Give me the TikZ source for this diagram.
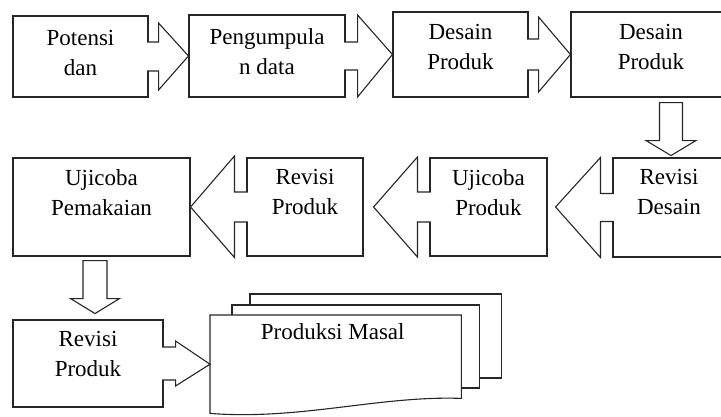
\documentclass[tikz,border=0pt]{standalone}
\usepackage{fontspec}
\setmainfont{Liberation Serif}
\usetikzlibrary{calc}
\tikzset{
  kotak/.style={draw=black!85, line width=1.1pt, fill=white, inner sep=0pt},
  teks/.style={align=center, anchor=north, inner sep=0pt,
    font=\fontsize{23}{30}\selectfont},
  panah/.style={draw=black!85, line width=1.1pt, fill=white, line join=miter},
}

\begin{document}
\begin{tikzpicture}[x=1pt,y=-1pt]
\clip (0,0) rectangle (721,416);
% baris pertama
\node[kotak, minimum width=135, minimum height=81] (potensi) at (80.5,56.5) {};
\node[kotak, minimum width=156, minimum height=82] (pengumpulan) at (267,56) {};
\node[kotak, minimum width=135, minimum height=85] (desain) at (460.5,54.5) {};
\node[kotak, minimum width=160, minimum height=85] (desainB) at (651,54.5) {};
% baris kedua
\node[kotak, minimum width=112, minimum height=99] (revisidesain) at (669,207.5) {};
\node[kotak, minimum width=117, minimum height=98] (ujicobaproduk) at (488.5,207) {};
\node[kotak, minimum width=116, minimum height=98] (revisiproduk) at (305,207) {};
\node[kotak, minimum width=177, minimum height=98] (ujicobapemakaian) at (101.5,207) {};
% baris ketiga
\node[kotak, minimum width=150, minimum height=87] (revisiprodukB) at (88,363.5) {};
\node[anchor=north west, minimum width=251, minimum height=98, inner sep=0pt] (produksi) at (210,315) {};

% panah kanan
\draw[panah] ($(potensi.east)+(-1.5,-14.5)$) -- ++(11.5,0) -- ++(0,-19) -- (pengumpulan.west)
  -- ($(potensi.east)+(10,33.5)$) -- ++(0,-19) -- ++(-11.5,0);
\draw[panah] ($(pengumpulan.east)+(-1.5,-14)$) -- ++(13.5,0) -- ++(0,-27) -- (desain.west)
  -- ($(pengumpulan.east)+(12,41)$) -- ++(0,-27) -- ++(-13.5,0);
\draw[panah] ($(desain.east)+(-1.5,-15.5)$) -- ++(11.5,0) -- ++(0,-22) -- (desainB.west)
  -- ($(desain.east)+(10,37.5)$) -- ++(0,-22) -- ++(-11.5,0);
% panah kiri
\draw[panah] ($(revisidesain.west)+(1.5,-14)$) -- ++(-13.5,0) -- ++(0,-36) -- ($(ujicobaproduk.east)+(8,0)$)
  -- ($(revisidesain.west)+(-12,50)$) -- ++(0,-36) -- ++(13.5,0);
\draw[panah] ($(ujicobaproduk.west)+(1.5,-15)$) -- ++(-13.5,0) -- ++(0,-35) -- ($(revisiproduk.east)+(10,0)$)
  -- ($(ujicobaproduk.west)+(-12,50)$) -- ++(0,-35) -- ++(13.5,0);
\draw[panah] ($(revisiproduk.west)+(1.5,-15)$) -- ++(-13.5,0) -- ++(0,-36) -- (ujicobapemakaian.east)
  -- ($(revisiproduk.west)+(-12,50.5)$) -- ++(0,-35.5) -- ++(13.5,0);
% panah turun
\coordinate (turunA) at ($(desainB.south)+(20,5)$);
\draw[panah] ($(turunA)+(-11.5,0)$) -- ++(23,0) -- ++(0,38) -- ++(13.5,0) -- ++(-25,15)
  -- ++(-25,-15) -- ++(13.5,0) -- cycle;
\coordinate (turunB) at ($(ujicobapemakaian.south)+(-6.5,4)$);
\draw[panah] ($(turunB)+(-12,0)$) -- ++(24,0) -- ++(0,38) -- ++(12.5,0) -- ++(-24.5,15)
  -- ++(-24.5,-15) -- ++(12.5,0) -- cycle;

% dokumen bertumpuk
\draw[panah] ($(produksi.north west)+(40,-21)$) rectangle ($(produksi.north east)+(40,63)$);
\draw[panah] ($(produksi.north west)+(22,-10)$) rectangle ($(produksi.north east)+(18,73)$);
\draw[panah] (produksi.north west) -- (produksi.north east) -- ($(produksi.south east)+(0,-15)$)
  .. controls ($(produksi.south east)+(-81,-18)$) and ($(produksi.south west)+(90,7)$) .. (produksi.south west) -- cycle;
\draw[panah] ($(revisiprodukB.east)+(-1.5,-16.5)$) -- ++(13.5,0) -- ++(0,-6) -- (produksi.west)
  -- ($(revisiprodukB.east)+(12,22.5)$) -- ++(0,-6) -- ++(-13.5,0);

% teks
\node[teks] (t-potensi) at ($(potensi.north)+(0,15)$) {Potensi\\dan};
\node[teks] (t-pengumpulan) at ($(pengumpulan.north)+(0,14)$) {Pengumpula\\n data};
\node[teks] (t-desain) at ($(desain.north)+(0,13)$) {Desain\\Produk};
\node[teks] (t-desainB) at ($(desainB.north)+(0,13)$) {Desain\\Produk};
\node[teks] (t-revisidesain) at ($(revisidesain.north)+(0,12)$) {Revisi\\Desain};
\node[teks] (t-ujicobaproduk) at ($(ujicobaproduk.north)+(0,12)$) {Ujicoba\\Produk};
\node[teks] (t-revisiproduk) at ($(revisiproduk.north)+(0,12)$) {Revisi\\Produk};
\node[teks] (t-ujicobapemakaian) at ($(ujicobapemakaian.north)+(0,12)$) {Ujicoba\\Pemakaian};
\node[teks] (t-revisiprodukB) at ($(revisiprodukB.north)+(0,12)$) {Revisi\\Produk};
\node[teks] (t-produksi) at ($(produksi.north)+(-3,8)$) {Produksi Masal};
\end{tikzpicture}
\end{document}
